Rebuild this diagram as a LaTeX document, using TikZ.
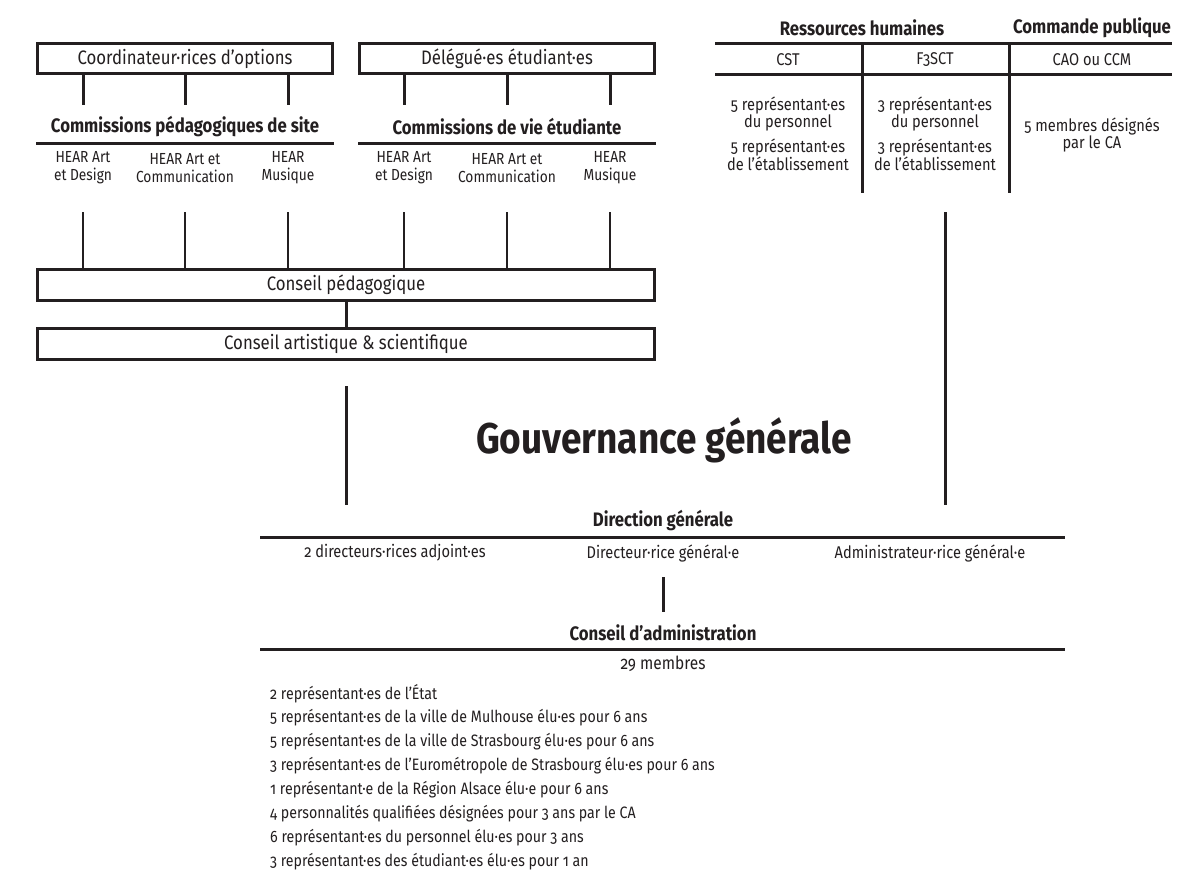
\documentclass[tikz,border=0pt]{standalone}
\usepackage{fontspec}
\setmainfont{Fira Sans}[Numbers=OldStyle, FakeStretch=0.86]
\definecolor{ink}{RGB}{35,31,32}
\newcommand{\fsz}[2]{\fontsize{#1}{#2}\selectfont}
\begin{document}
\begin{tikzpicture}[x=1pt,y=-1pt,
  every node/.style={text=ink, inner sep=0pt},
  box/.style={draw=ink, line width=3pt, minimum height=30pt, font=\fsz{19.5}{22}},
  head/.style={font=\fsz{19.5}{22}\bfseries},
  txt/.style={font=\fsz{17}{17}, align=center},
  hear/.style={font=\fsz{16}{18}, align=center},
  lst/.style={font=\fsz{16.5}{18}, anchor=west},
  conn/.style={draw=ink, line width=3pt},
  thin/.style={draw=ink, line width=2.5pt},
  rule/.style={draw=ink, line width=3pt}]
\fill[white] (0,0) rectangle (1195,883);
\path[use as bounding box] (0,0) rectangle (1195,883);

% ---- top-left boxes
\node[box, minimum width=295pt] (coord) at (185,59) {Coordinateur·rices d’options};
\node[box, minimum width=295pt] (deleg) at (507,59) {Délégué·es étudiant·es};

\node[head] (cps) at (185,127) {Commissions pédagogiques de site};
\node[head] (cve) at (507,127) {Commissions de vie étudiante};
\draw[rule] (36,143) -- (334,143);
\draw[rule] (358,143) -- (656,143);

\node[hear] (a1) at (83,168) {HEAR Art\\et Design};
\node[hear] (a2) at (185,168) {HEAR Art et\\Communication};
\node[hear] (a3) at (288,168) {HEAR\\Musique};
\node[hear] (b1) at (404,168) {HEAR Art\\et Design};
\node[hear] (b2) at (507,168) {HEAR Art et\\Communication};
\node[hear] (b3) at (610,168) {HEAR\\Musique};

\coordinate (stubend) at (0,105);
\foreach \n in {a1,a2,a3} \draw[conn] (coord.south -| \n) -- (stubend -| \n);
\foreach \n in {b1,b2,b3} \draw[conn] (deleg.south -| \n) -- (stubend -| \n);

\node[box, minimum width=617pt, minimum height=31pt] (cp) at (346,285) {Conseil pédagogique};
\node[box, minimum width=617pt, minimum height=31pt] (cas) at (346,344) {Conseil artistique \& scientifique};
\coordinate (lowstart) at (0,212);
\foreach \n in {a1,a2,a3,b1,b2,b3} \draw[thin] (cp.north -| \n) -- (lowstart -| \n);
\draw[conn] (cp.south) -- (cas.north);

% ---- title
\node[font=\fsz{43}{46}\bfseries] (gov) at (664,440) {Gouvernance générale};

% ---- top-right table
\node[head] (rh) at (862,28) {Ressources humaines};
\node[head] (cpub) at (1092,28) {Commande publique};
\draw[rule] (715,44) -- (1172,44);
\draw[rule] (715,75) -- (1172,75);
\draw[rule] (862,44) -- (862,193);
\draw[rule] (1009,44) -- (1009,193);
\node[txt] (cst) at (788,60) {CST};
\node[txt] (fsct) at (935,60) {F3SCT};
\node[txt] (cao) at (1092,60) {CAO ou CCM};
\node[txt] (c1) at (788,134) {5 représentant·es\\du personnel\\[7pt]5 représentant·es\\de l’établissement};
\node[txt] (c2) at (935,134) {3 représentant·es\\du personnel\\[7pt]3 représentant·es\\de l’établissement};
\node[txt] (c3) at (1092,135) {5 membres désignés\\par le CA};

% ---- direction générale
\node[head] (dg) at (663,521) {Direction générale};
\draw[rule] (260,537) -- (1065,537);
\node[txt] (adj) at (395,553) {2 directeurs·rices adjoint·es};
\node[txt] (dir) at (663,553) {Directeur·rice général·e};
\node[txt] (adm) at (930,553) {Administrateur·rice général·e};
\coordinate (endL) at (346,505);
\coordinate (endR) at (945,505);
\coordinate (startL) at (346,386);
\coordinate (startR) at (945,212);
\draw[conn] (startL) -- (endL);
\draw[conn] (startR) -- (endR);

\node[head] (ca) at (663,633) {Conseil d’administration};
\coordinate (dtop) at (663,577);
\coordinate (dbot) at (663,612);
\draw[conn] (dtop) -- (dbot);
\draw[rule] (260,649) -- (1065,649);
\node[txt, font=\fsz{18}{18}] (mem) at (663,664) {29 membres};

\node[lst] (l1) at (270,694) {2 représentant·es de l’État};
\node[lst] (l2) at (270,718) {5 représentant·es de la ville de Mulhouse élu·es pour 6 ans};
\node[lst] (l3) at (270,742) {5 représentant·es de la ville de Strasbourg élu·es pour 6 ans};
\node[lst] (l4) at (270,766) {3 représentant·es de l’Eurométropole de Strasbourg élu·es pour 6 ans};
\node[lst] (l5) at (270,790) {1 représentant·e de la Région Alsace élu·e pour 6 ans};
\node[lst] (l6) at (270,814) {4 personnalités qualifiées désignées pour 3 ans par le CA};
\node[lst] (l7) at (270,838) {6 représentant·es du personnel élu·es pour 3 ans};
\node[lst] (l8) at (270,862) {3 représentant·es des étudiant·es élu·es pour 1 an};
\end{tikzpicture}
\end{document}
